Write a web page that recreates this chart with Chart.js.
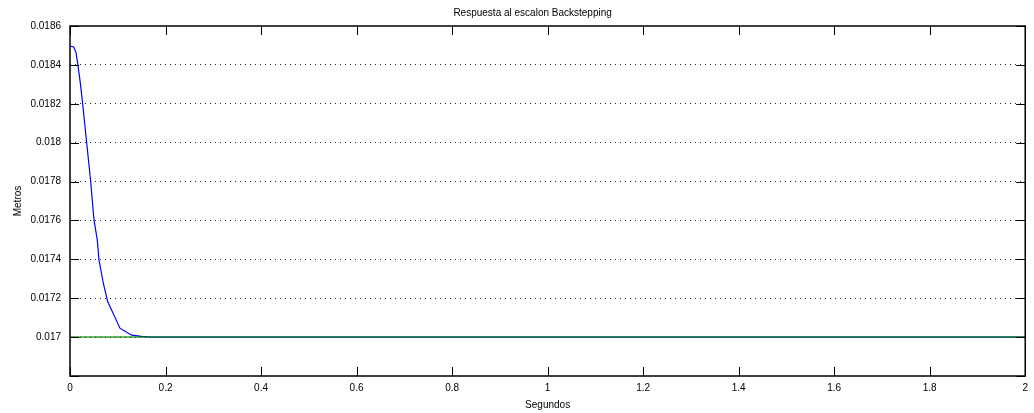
<!DOCTYPE html>
<html>
<head>
<meta charset="utf-8">
<script src="https://cdn.jsdelivr.net/npm/chart.js@4.4.1/dist/chart.umd.min.js"></script>
<style>
html,body{margin:0;padding:0;background:#fff;}
#wrap{width:1034px;height:413px;position:relative;}
</style>
</head>
<body>
<div id="wrap"><canvas id="c" width="1034" height="413"></canvas></div>
<script>
// Data
const respTime = [0, 0.0077, 0.0126, 0.0167, 0.0215, 0.0266, 0.032, 0.0433, 0.0502, 0.0571, 0.0607, 0.0697, 0.0789, 0.1046, 0.129, 0.150, 0.17, 0.5, 1.0, 1.5, 2.0];
const respValue = [0.018497, 0.018492, 0.018463, 0.018398, 0.018309, 0.018198, 0.018069, 0.017800, 0.017603, 0.017500, 0.017397, 0.017277, 0.017183, 0.017046, 0.017010, 0.017004, 0.017, 0.017, 0.017, 0.017, 0.017];
const refTime = [0, 2];
const refValue = [0.017, 0.017];
const xTicks = [0, 0.2, 0.4, 0.6, 0.8, 1, 1.2, 1.4, 1.6, 1.8, 2];
const yTicks = [0.0168, 0.017, 0.0172, 0.0174, 0.0176, 0.0178, 0.018, 0.0182, 0.0184, 0.0186];
const titleText = 'Respuesta al escalon Backstepping';
const xTitle = 'Segundos';
const yTitle = 'Metros';

const FONT = 'Liberation Sans, Arial, Helvetica, sans-serif';

const framePlugin = {
  id: 'frame',
  afterDraw(chart) {
    const {ctx, chartArea: a, scales: {x, y}} = chart;
    ctx.save();
    ctx.strokeStyle = '#000';
    ctx.lineWidth = 1.5;
    ctx.strokeRect(a.left, a.top, a.right - a.left, a.bottom - a.top);
    ctx.lineWidth = 1;
    const L = 9;
    ctx.beginPath();
    xTicks.forEach(v => {
      const px = Math.round(x.getPixelForValue(v)) + 0.5;
      ctx.moveTo(px, a.bottom); ctx.lineTo(px, a.bottom - L);
      ctx.moveTo(px, a.top); ctx.lineTo(px, a.top + L);
    });
    yTicks.forEach(v => {
      const py = Math.round(y.getPixelForValue(v)) + 0.5;
      ctx.moveTo(a.left, py); ctx.lineTo(a.left + L, py);
      ctx.moveTo(a.right, py); ctx.lineTo(a.right - L, py);
    });
    ctx.stroke();
    // title
    ctx.fillStyle = '#000';
    ctx.font = '10px ' + FONT;
    ctx.textAlign = 'center';
    ctx.textBaseline = 'middle';
    ctx.fillText(titleText, (a.left + a.right) / 2 - 15, 13);
    ctx.restore();
  }
};

new Chart(document.getElementById('c'), {
  type: 'line',
  data: {
    datasets: [
      {
        label: 'Respuesta',
        data: respTime.map((t, i) => ({x: t, y: respValue[i]})),
        borderColor: '#0000ff',
        borderWidth: 1.2,
        pointRadius: 0,
        tension: 0,
        fill: false,
        order: 2
      },
      {
        label: 'Referencia',
        data: refTime.map((t, i) => ({x: t, y: refValue[i]})),
        borderColor: 'rgba(0,128,0,0.6)',
        borderWidth: 2,
        pointRadius: 0,
        tension: 0,
        fill: false,
        order: 1
      }
    ]
  },
  options: {
    responsive: false,
    animation: false,
    layout: {padding: {top: 26, right: 8, left: 0, bottom: 0}},
    plugins: {legend: {display: false}, tooltip: {enabled: false}, title: {display: false}},
    scales: {
      x: {
        type: 'linear',
        min: 0, max: 2,
        afterBuildTicks(s) { s.ticks = xTicks.map(v => ({value: v})); },
        afterFit(s) { s.height = 37; },
        grid: {display: false, drawTicks: false},
        border: {display: false},
        ticks: {
          color: '#000',
          font: {family: FONT, size: 10},
          padding: 6,
          maxRotation: 0,
          callback: v => String(parseFloat(v.toFixed(1)))
        },
        title: {display: true, text: xTitle, color: '#000', font: {family: FONT, size: 10}, padding: {top: 0, bottom: 2}}
      },
      y: {
        type: 'linear',
        min: 0.0168, max: 0.0186,
        afterBuildTicks(s) { s.ticks = yTicks.map(v => ({value: v})); },
        afterFit(s) { s.width = 70; },
        grid: {
          drawTicks: false,
          color: ctx => (ctx.tick && (Math.abs(ctx.tick.value - 0.0168) < 1e-9 || Math.abs(ctx.tick.value - 0.0186) < 1e-9)) ? 'rgba(0,0,0,0)' : 'rgba(0,0,0,0.85)',
          lineWidth: 1,
          tickBorderDash: [1, 4]
        },
        border: {display: false, dash: [1, 4]},
        ticks: {
          color: '#000',
          font: {family: FONT, size: 10},
          padding: 9,
          callback: v => String(parseFloat(v.toFixed(4))) === '0.0168' ? '' : String(parseFloat(v.toFixed(4)))
        },
        title: {display: true, text: yTitle, color: '#000', font: {family: FONT, size: 10}, padding: {top: 12, bottom: 0}}
      }
    }
  },
  plugins: [{
    id: 'dashGrid',
    beforeDraw(chart) {
      chart.options.scales.y.grid.borderDash = [1, 4];
    }
  }, framePlugin]
});
</script>
</body>
</html>
